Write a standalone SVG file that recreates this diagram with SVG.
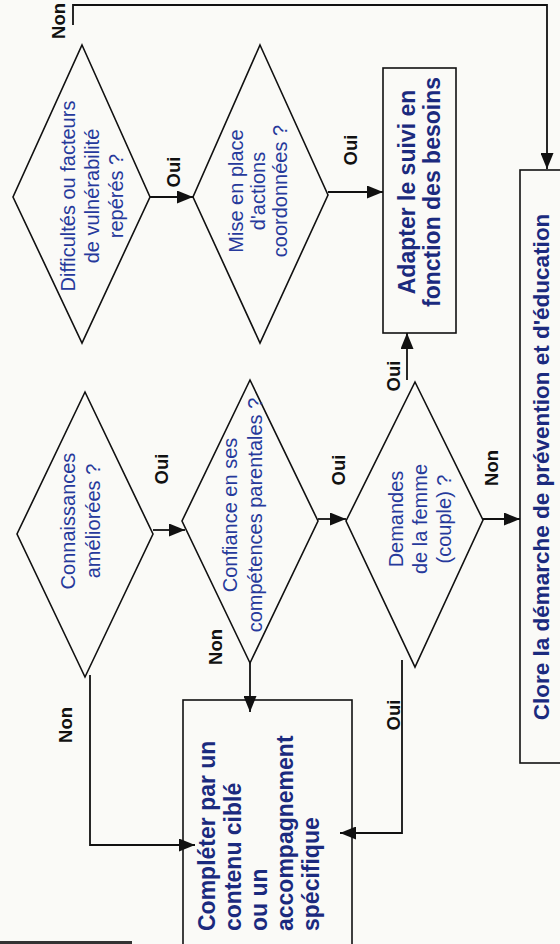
<svg xmlns="http://www.w3.org/2000/svg" width="560" height="944" viewBox="0 0 560 944">
<style>
.bg{fill:#fafaf7}
.shape{fill:none;stroke:#111;stroke-width:1.6}
.conn{fill:none;stroke:#111;stroke-width:1.8}
.q{font-family:"Liberation Sans",Arial,sans-serif;font-size:20px;fill:#26399b}
.b{font-family:"Liberation Sans",Arial,sans-serif;font-size:23px;font-weight:bold;fill:#1b2a7e}
.lbl{font-family:"Liberation Sans",Arial,sans-serif;font-size:18.5px;font-weight:bold;fill:#111;text-anchor:middle}
</style>
<defs>
<marker id="arr" markerUnits="userSpaceOnUse" markerWidth="17" markerHeight="13" refX="16" refY="6.5" orient="auto">
<path d="M0,0 L16,6.5 L0,13 z" fill="#111"/>
</marker>
</defs>
<rect class="bg" x="0" y="0" width="560" height="944"/>
<rect x="0" y="941" width="132" height="3" fill="#333"/>

<g id="d1">
<polygon class="shape" points="82,45 150,197 82,343 13,197"/>
<text class="q" text-anchor="middle" transform="translate(75,196) rotate(-90)"><tspan x="0" y="0">Difficultés ou facteurs</tspan><tspan x="0" y="24">de vulnérabilité</tspan><tspan x="0" y="48">repérés ?</tspan></text>
</g>
<g id="d2">
<polygon class="shape" points="260,45 328,195 260,343 193,197"/>
<text class="q" text-anchor="middle" transform="translate(243,191) rotate(-90)"><tspan x="0" y="0">Mise en place</tspan><tspan x="0" y="22">d'actions</tspan><tspan x="0" y="44">coordonnées ?</tspan></text>
</g>
<g id="adapter">
<rect class="shape" x="383" y="68" width="73" height="265"/>
<text class="b" text-anchor="middle" transform="translate(415,192) rotate(-90)"><tspan x="0" y="0">Adapter le suivi en</tspan><tspan x="0" y="25">fonction des besoins</tspan></text>
</g>
<g id="clore">
<rect class="shape" x="520" y="170" width="48" height="593"/>
<text class="b" text-anchor="middle" style="font-size:22.5px" transform="translate(549,467) rotate(-90)">Clore la démarche de prévention et d'éducation</text>
</g>
<g id="d3">
<polygon class="shape" points="85,392 153,534 85,677 17,534"/>
<text class="q" text-anchor="middle" transform="translate(75,521) rotate(-90)"><tspan x="0" y="0">Connaissances</tspan><tspan x="0" y="25">améliorées ?</tspan></text>
</g>
<g id="d4">
<polygon class="shape" points="250,380 318,521 250,663 182,521"/>
<text class="q" text-anchor="middle" transform="translate(237,515) rotate(-90)"><tspan x="0" y="0">Confiance en ses</tspan><tspan x="0" y="25">compétences parentales ?</tspan></text>
</g>
<g id="d5">
<polygon class="shape" points="415,382 483,520 415,667 346,521"/>
<text class="q" text-anchor="middle" transform="translate(403,519) rotate(-90)"><tspan x="0" y="0">Demandes</tspan><tspan x="0" y="24">de la femme</tspan><tspan x="0" y="48">(couple) ?</tspan></text>
</g>
<g id="completer">
<rect class="shape" x="183" y="700" width="169" height="260"/>
<text class="b" transform="translate(215,931) rotate(-90)"><tspan x="0" y="0">Compléter par un</tspan><tspan x="0" y="26">contenu ciblé</tspan><tspan x="0" y="52">ou un</tspan><tspan x="0" y="78">accompagnement</tspan><tspan x="0" y="104">spécifique</tspan></text>
</g>

<g id="connectors">
<polyline class="conn" points="73,25 73,5 547,5 547,169" marker-end="url(#arr)"/>
<line class="conn" x1="150" y1="197" x2="193" y2="197" marker-end="url(#arr)"/>
<line class="conn" x1="328" y1="192" x2="383" y2="192" marker-end="url(#arr)"/>
<line class="conn" x1="153" y1="530" x2="185" y2="530" marker-end="url(#arr)"/>
<line class="conn" x1="318" y1="519" x2="346" y2="519" marker-end="url(#arr)"/>
<line class="conn" x1="483" y1="519" x2="520" y2="519" marker-end="url(#arr)"/>
<line class="conn" x1="407" y1="380" x2="407" y2="333" marker-end="url(#arr)"/>
<polyline class="conn" points="90,675 90,845 195,845" marker-end="url(#arr)"/>
<line class="conn" x1="250" y1="663" x2="250" y2="712" marker-end="url(#arr)"/>
<polyline class="conn" points="402,660 402,833 340,833" marker-end="url(#arr)"/>
</g>

<g id="labels">
<text class="lbl" transform="translate(65,21) rotate(-90)">Non</text>
<text class="lbl" transform="translate(180,172) rotate(-90)">Oui</text>
<text class="lbl" transform="translate(357,150) rotate(-90)">Oui</text>
<text class="lbl" transform="translate(168,469) rotate(-90)">Oui</text>
<text class="lbl" transform="translate(345,470) rotate(-90)">Oui</text>
<text class="lbl" transform="translate(498,468) rotate(-90)">Non</text>
<text class="lbl" transform="translate(400,376) rotate(-90)">Oui</text>
<text class="lbl" transform="translate(72,725) rotate(-90)">Non</text>
<text class="lbl" transform="translate(222,647) rotate(-90)">Non</text>
<text class="lbl" transform="translate(400,715) rotate(-90)">Oui</text>
</g>
</svg>
